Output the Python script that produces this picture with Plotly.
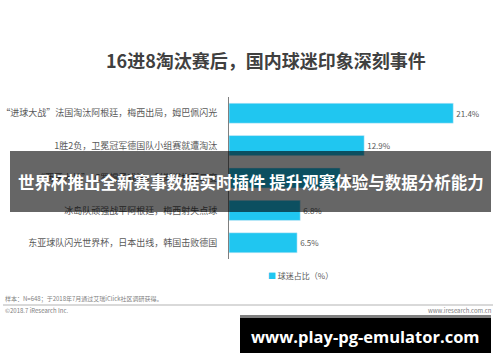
import plotly.graph_objects as go

categories = [
    "“进球大战”法国淘汰阿根廷，梅西出局，姆巴佩闪光",
    "1胜2负，卫冕冠军德国队小组赛就遭淘汰",
    "“两牙大战”，C罗帽子戏法，科斯塔梅开二度",
    "冰岛队顽强战平阿根廷，梅西射失点球",
    "东亚球队闪光世界杯，日本出线，韩国击败德国",
]
values = [21.4, 12.9, 10.6, 6.8, 6.5]
series_name = "球迷占比（%）"
title_text = "16进8淘汰赛后，国内球迷印象深刻事件"
banner_text = "世界杯推出全新赛事数据实时插件 提升观赛体验与数据分析能力"
watermark_text = "www.play-pg-emulator.com"
note_text = "样本：N=648；于2018年7月通过艾瑞iClick社区调研获得。"
copyright_text = "©2018.7 iResearch Inc."
site_text = "www.iresearch.com.cn"

W, H = 500, 362
ML, MR, MT, MB = 229, 9, 97, 103
PW, PH = W - ML - MR, H - MT - MB
CJK = "Noto Sans CJK SC"
BAR = "#20C6F0"


def px(x):
    return (x - ML) / PW


def py(y):
    return (H - MB - y) / PH


fig = go.Figure()
fig.add_trace(go.Bar(
    y=categories, x=values, orientation="h", marker_color=BAR,
    width=0.62, name=series_name,
    text=[f"{v}%" for v in values], textposition="outside",
    textfont=dict(size=8, color="#595959", family=CJK),
    cliponaxis=False, showlegend=False,
))

shapes = [
    # footer rule
    dict(type="line", xref="paper", yref="paper", x0=px(3), x1=px(493), y0=py(305), y1=py(305),
         line=dict(color="#cccccc", width=1.5)),
    # banner overlay
    dict(type="rect", xref="paper", yref="paper", x0=px(10), x1=px(491), y0=py(212), y1=py(151),
         fillcolor="rgba(0,0,0,0.6)", line=dict(width=0), layer="above"),
    # watermark box
    dict(type="rect", xref="paper", yref="paper", x0=px(240), x1=px(491), y0=py(353), y1=py(315),
         fillcolor="#000000", line=dict(width=0), layer="above"),
    dict(type="rect", xref="paper", yref="paper", x0=px(240), x1=px(491), y0=py(318), y1=py(315),
         fillcolor="#808080", line=dict(width=0), layer="above"),
]

annotations = [
    dict(text=f"<b>{title_text}</b>", x=px(266), y=py(60), xref="paper", yref="paper",
         xanchor="center", yanchor="middle",
         showarrow=False, font=dict(size=18, color="#404040", family=CJK)),
    dict(text=f"<span style='color:{BAR}'>■</span> {series_name}", x=px(266), y=py(275),
         xref="paper", yref="paper", xanchor="left", yanchor="middle", showarrow=False,
         font=dict(size=8, color="#595959", family=CJK)),
    dict(text=note_text, x=px(3), y=py(298), xref="paper", yref="paper", xanchor="left",
         yanchor="middle", showarrow=False, font=dict(size=6, color="#808080", family=CJK)),
    dict(text=copyright_text, x=px(3), y=py(310), xref="paper", yref="paper", xanchor="left",
         yanchor="middle", showarrow=False, font=dict(size=6, color="#808080", family=CJK)),
    dict(text=site_text, x=px(494), y=py(310), xref="paper", yref="paper", xanchor="right",
         yanchor="middle", showarrow=False, font=dict(size=6, color="#808080", family=CJK)),
    dict(text=f"<b>{banner_text}</b>", x=px(250.5), y=py(182), xref="paper", yref="paper",
         xanchor="center", yanchor="middle",
         showarrow=False, font=dict(size=16.5, color="#ffffff", family=CJK)),
    dict(text=f"<b>{watermark_text}</b>", x=px(365), y=py(336), xref="paper", yref="paper",
         xanchor="center", yanchor="middle",
         showarrow=False, font=dict(size=16.5, color="#ffffff", family="Open Sans")),
]

fig.update_layout(
    width=W, height=H, margin=dict(l=ML, r=MR, t=MT, b=MB, autoexpand=False),
    paper_bgcolor="white", plot_bgcolor="white",
    xaxis=dict(range=[0, 25], visible=False, fixedrange=True, automargin=False),
    yaxis=dict(autorange="reversed", showline=True, linecolor="#7f7f7f", linewidth=1,
               ticks="", ticklabelstandoff=9, showgrid=False, automargin=False,
               tickfont=dict(size=9, color="#595959", family=CJK)),
    shapes=shapes, annotations=annotations, bargap=0.38,
)

fig.write_html("out.html", config={"displayModeBar": False},
               post_script="document.body.style.margin='0';")
